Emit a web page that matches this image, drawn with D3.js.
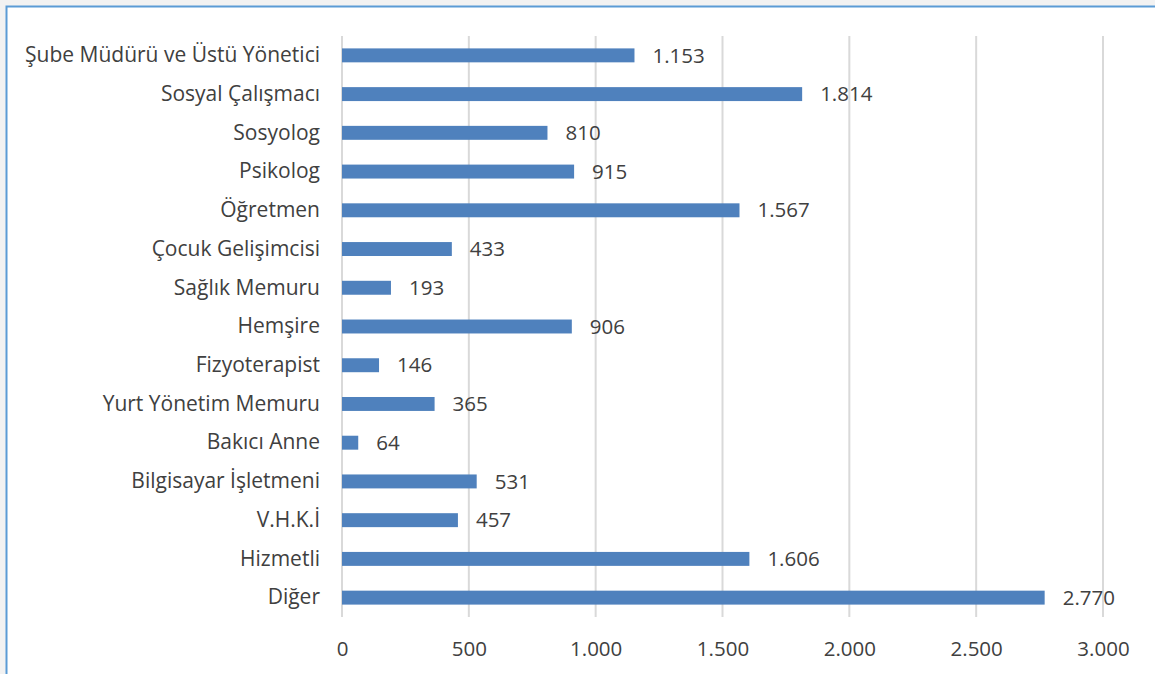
<!DOCTYPE html>
<html>
<head>
<meta charset="utf-8">
<script src="https://cdn.jsdelivr.net/npm/d3@7"></script>
<style>
  body { margin: 0; background: #f2f2f2; }
  svg { display: block; }
  text { font-family: "Open Sans", sans-serif; fill: #404040; }
</style>
</head>
<body>
<svg id="chart"></svg>
<script>
const categories = ["Şube Müdürü ve Üstü Yönetici", "Sosyal Çalışmacı", "Sosyolog", "Psikolog",
  "Öğretmen", "Çocuk Gelişimcisi", "Sağlık Memuru", "Hemşire", "Fizyoterapist",
  "Yurt Yönetim Memuru", "Bakıcı Anne", "Bilgisayar İşletmeni", "V.H.K.İ", "Hizmetli", "Diğer"];
const values = [1153, 1814, 810, 915, 1567, 433, 193, 906, 146, 365, 64, 531, 457, 1606, 2770];
const ticks = [0, 500, 1000, 1500, 2000, 2500, 3000];

const W = 1155, H = 674;
const margin = { top: 36, right: 52, bottom: 57, left: 342 };
const fmt = d3.formatLocale({ decimal: ",", thousands: ".", grouping: [3] }).format(",d");
const fontSize = "20.5px";

const svg = d3.select("#chart").attr("width", W).attr("height", H);

// frame
svg.append("rect")
  .attr("x", 6.5).attr("y", 6.5)
  .attr("width", W + 10).attr("height", H + 10)
  .attr("fill", "#fff")
  .attr("stroke", "#5b9bd5")
  .attr("stroke-width", 2);

const width = W - margin.left - margin.right;
const height = H - margin.top - margin.bottom;
const chart = svg.append("g").attr("transform", `translate(${margin.left},${margin.top})`);

const x = d3.scaleLinear().domain([0, 3000]).range([0, width]);
const y = d3.scaleBand().domain(categories).range([0, height]).paddingInner(0.64).paddingOuter(0.32);

// gridlines
chart.selectAll(".grid")
  .data(ticks)
  .join("line")
  .attr("x1", d => x(d)).attr("x2", d => x(d))
  .attr("y1", 0).attr("y2", height)
  .attr("stroke", "#d9d9d9")
  .attr("stroke-width", 2);

// x axis labels
const xAxis = d3.axisBottom(x).tickValues(ticks).tickFormat(fmt).tickSize(0).tickPadding(24);
const xAxisG = chart.append("g").attr("transform", `translate(0,${height})`).call(xAxis);
xAxisG.select(".domain").remove();
xAxisG.selectAll("text").style("font-size", fontSize).attr("fill", "#595959");

// y axis labels
const yAxis = d3.axisLeft(y).tickSize(0).tickPadding(22);
const yAxisG = chart.append("g").call(yAxis);
yAxisG.select(".domain").remove();
yAxisG.selectAll("text").style("font-size", "21px").attr("fill", "#595959");

// bars
chart.selectAll(".bar")
  .data(values)
  .join("rect")
  .attr("x", 0)
  .attr("y", (d, i) => y(categories[i]))
  .attr("width", d => x(d))
  .attr("height", y.bandwidth())
  .attr("fill", "#4f81bd");

// value labels
chart.selectAll(".val")
  .data(values)
  .join("text")
  .attr("x", d => x(d) + 18)
  .attr("y", (d, i) => y(categories[i]) + y.bandwidth() / 2)
  .attr("dy", "0.35em")
  .style("font-size", fontSize)
  .text(d => fmt(d));
</script>
</body>
</html>
